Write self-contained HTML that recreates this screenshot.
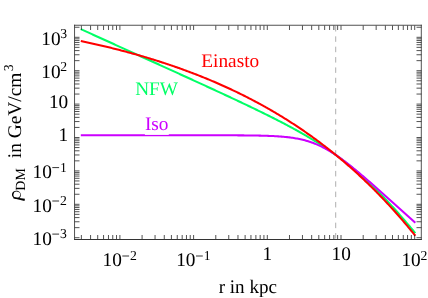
<!DOCTYPE html>
<html><head><meta charset="utf-8"><title>DM density profiles</title>
<style>html,body{margin:0;padding:0;background:#fff;}svg{display:block;will-change:transform;}</style>
</head><body>
<svg width="428" height="298" viewBox="0 0 428 298">
<rect width="428" height="298" fill="#fff"/>
<line x1="335.70" y1="238.50" x2="335.70" y2="25.50" stroke="#909090" stroke-width="0.72" stroke-dasharray="5.5 4.85"/>
<g fill="none" stroke-width="2.05" stroke-linejoin="round" stroke-linecap="butt">
<path d="M80.81 29.14 L81.93 29.64 L83.04 30.15 L84.16 30.65 L85.27 31.16 L86.39 31.66 L87.50 32.17 L88.62 32.67 L89.73 33.18 L90.85 33.69 L91.96 34.19 L93.08 34.70 L94.19 35.20 L95.31 35.71 L96.42 36.21 L97.54 36.72 L98.65 37.22 L99.77 37.73 L100.88 38.24 L102.00 38.74 L103.11 39.25 L104.23 39.75 L105.34 40.26 L106.46 40.76 L107.57 41.27 L108.69 41.78 L109.80 42.28 L110.92 42.79 L112.03 43.29 L113.15 43.80 L114.26 44.30 L115.38 44.81 L116.49 45.32 L117.61 45.82 L118.72 46.33 L119.84 46.83 L120.95 47.34 L122.07 47.84 L123.18 48.35 L124.30 48.86 L125.41 49.36 L126.53 49.87 L127.64 50.37 L128.76 50.88 L129.87 51.39 L130.99 51.89 L132.10 52.40 L133.22 52.90 L134.33 53.41 L135.45 53.92 L136.56 54.42 L137.68 54.93 L138.79 55.44 L139.91 55.94 L141.02 56.45 L142.14 56.95 L143.25 57.46 L144.37 57.97 L145.48 58.47 L146.60 58.98 L147.71 59.49 L148.83 59.99 L149.94 60.50 L151.06 61.01 L152.17 61.51 L153.29 62.02 L154.40 62.53 L155.52 63.03 L156.63 63.54 L157.75 64.05 L158.86 64.55 L159.98 65.06 L161.09 65.57 L162.21 66.08 L163.32 66.58 L164.44 67.09 L165.55 67.60 L166.67 68.10 L167.79 68.61 L168.90 69.12 L170.02 69.63 L171.13 70.14 L172.25 70.64 L173.36 71.15 L174.48 71.66 L175.59 72.17 L176.71 72.68 L177.82 73.18 L178.94 73.69 L180.05 74.20 L181.17 74.71 L182.28 75.22 L183.40 75.73 L184.51 76.24 L185.63 76.75 L186.74 77.26 L187.86 77.76 L188.97 78.27 L190.09 78.78 L191.20 79.29 L192.32 79.80 L193.43 80.31 L194.55 80.82 L195.66 81.34 L196.78 81.85 L197.89 82.36 L199.01 82.87 L200.12 83.38 L201.24 83.89 L202.35 84.40 L203.47 84.91 L204.58 85.43 L205.70 85.94 L206.81 86.45 L207.93 86.97 L209.04 87.48 L210.16 87.99 L211.27 88.51 L212.39 89.02 L213.50 89.54 L214.62 90.05 L215.73 90.57 L216.85 91.08 L217.96 91.60 L219.08 92.11 L220.19 92.63 L221.31 93.15 L222.42 93.66 L223.54 94.18 L224.65 94.70 L225.77 95.22 L226.88 95.74 L228.00 96.26 L229.11 96.78 L230.23 97.30 L231.34 97.82 L232.46 98.34 L233.57 98.86 L234.69 99.39 L235.80 99.91 L236.92 100.43 L238.03 100.96 L239.15 101.48 L240.26 102.01 L241.38 102.54 L242.49 103.07 L243.61 103.59 L244.72 104.12 L245.84 104.65 L246.95 105.18 L248.07 105.72 L249.18 106.25 L250.30 106.78 L251.41 107.32 L252.53 107.85 L253.64 108.39 L254.76 108.93 L255.87 109.47 L256.99 110.01 L258.10 110.55 L259.22 111.09 L260.33 111.63 L261.45 112.18 L262.56 112.73 L263.68 113.27 L264.79 113.82 L265.91 114.37 L267.02 114.93 L268.14 115.48 L269.25 116.03 L270.37 116.59 L271.48 117.15 L272.60 117.71 L273.71 118.27 L274.83 118.84 L275.95 119.41 L277.06 119.97 L278.18 120.54 L279.29 121.12 L280.41 121.69 L281.52 122.27 L282.64 122.85 L283.75 123.43 L284.87 124.02 L285.98 124.60 L287.10 125.19 L288.21 125.79 L289.33 126.38 L290.44 126.98 L291.56 127.58 L292.67 128.18 L293.79 128.79 L294.90 129.40 L296.02 130.02 L297.13 130.63 L298.25 131.25 L299.36 131.88 L300.48 132.51 L301.59 133.14 L302.71 133.78 L303.82 134.42 L304.94 135.06 L306.05 135.71 L307.17 136.36 L308.28 137.02 L309.40 137.68 L310.51 138.35 L311.63 139.02 L312.74 139.69 L313.86 140.37 L314.97 141.06 L316.09 141.75 L317.20 142.45 L318.32 143.15 L319.43 143.86 L320.55 144.57 L321.66 145.29 L322.78 146.02 L323.89 146.75 L325.01 147.49 L326.12 148.23 L327.24 148.98 L328.35 149.74 L329.47 150.50 L330.58 151.27 L331.70 152.05 L332.81 152.83 L333.93 153.62 L335.04 154.42 L336.16 155.22 L337.27 156.04 L338.39 156.86 L339.50 157.69 L340.62 158.52 L341.73 159.37 L342.85 160.22 L343.96 161.08 L345.08 161.94 L346.19 162.82 L347.31 163.70 L348.42 164.59 L349.54 165.49 L350.65 166.40 L351.77 167.32 L352.88 168.25 L354.00 169.18 L355.11 170.12 L356.23 171.08 L357.34 172.04 L358.46 173.00 L359.57 173.98 L360.69 174.97 L361.80 175.96 L362.92 176.97 L364.03 177.98 L365.15 179.00 L366.26 180.03 L367.38 181.07 L368.49 182.12 L369.61 183.18 L370.72 184.24 L371.84 185.32 L372.95 186.40 L374.07 187.49 L375.18 188.59 L376.30 189.70 L377.41 190.82 L378.53 191.94 L379.64 193.08 L380.76 194.22 L381.87 195.37 L382.99 196.53 L384.11 197.69 L385.22 198.87 L386.34 200.05 L387.45 201.24 L388.57 202.44 L389.68 203.64 L390.80 204.85 L391.91 206.07 L393.03 207.30 L394.14 208.53 L395.26 209.77 L396.37 211.02 L397.49 212.28 L398.60 213.54 L399.72 214.81 L400.83 216.08 L401.95 217.36 L403.06 218.65 L404.18 219.94 L405.29 221.24 L406.41 222.55 L407.52 223.86 L408.64 225.17 L409.75 226.50 L410.87 227.82 L411.98 229.16 L413.10 230.49 L414.21 231.84 L415.33 233.19" stroke="#00ff66"/>
<path d="M80.81 135.26 L81.93 135.26 L83.04 135.26 L84.16 135.26 L85.27 135.26 L86.39 135.26 L87.50 135.26 L88.62 135.26 L89.73 135.26 L90.85 135.26 L91.96 135.26 L93.08 135.26 L94.19 135.26 L95.31 135.26 L96.42 135.26 L97.54 135.26 L98.65 135.26 L99.77 135.26 L100.88 135.26 L102.00 135.26 L103.11 135.26 L104.23 135.26 L105.34 135.26 L106.46 135.26 L107.57 135.26 L108.69 135.26 L109.80 135.26 L110.92 135.26 L112.03 135.26 L113.15 135.26 L114.26 135.26 L115.38 135.26 L116.49 135.26 L117.61 135.26 L118.72 135.26 L119.84 135.26 L120.95 135.26 L122.07 135.26 L123.18 135.26 L124.30 135.26 L125.41 135.26 L126.53 135.26 L127.64 135.26 L128.76 135.26 L129.87 135.26 L130.99 135.26 L132.10 135.26 L133.22 135.26 L134.33 135.26 L135.45 135.26 L136.56 135.26 L137.68 135.26 L138.79 135.26 L139.91 135.26 L141.02 135.26 L142.14 135.26 L143.25 135.26 L144.37 135.26 L145.48 135.26 L146.60 135.26 L147.71 135.26 L148.83 135.26 L149.94 135.26 L151.06 135.26 L152.17 135.26 L153.29 135.26 L154.40 135.26 L155.52 135.26 L156.63 135.26 L157.75 135.26 L158.86 135.26 L159.98 135.26 L161.09 135.26 L162.21 135.26 L163.32 135.26 L164.44 135.26 L165.55 135.26 L166.67 135.26 L167.79 135.26 L168.90 135.26 L170.02 135.26 L171.13 135.26 L172.25 135.26 L173.36 135.26 L174.48 135.26 L175.59 135.26 L176.71 135.26 L177.82 135.26 L178.94 135.26 L180.05 135.26 L181.17 135.26 L182.28 135.26 L183.40 135.26 L184.51 135.26 L185.63 135.26 L186.74 135.26 L187.86 135.26 L188.97 135.26 L190.09 135.26 L191.20 135.26 L192.32 135.27 L193.43 135.27 L194.55 135.27 L195.66 135.27 L196.78 135.27 L197.89 135.27 L199.01 135.27 L200.12 135.27 L201.24 135.27 L202.35 135.27 L203.47 135.27 L204.58 135.27 L205.70 135.27 L206.81 135.27 L207.93 135.27 L209.04 135.28 L210.16 135.28 L211.27 135.28 L212.39 135.28 L213.50 135.28 L214.62 135.28 L215.73 135.28 L216.85 135.28 L217.96 135.29 L219.08 135.29 L220.19 135.29 L221.31 135.29 L222.42 135.29 L223.54 135.30 L224.65 135.30 L225.77 135.30 L226.88 135.31 L228.00 135.31 L229.11 135.31 L230.23 135.32 L231.34 135.32 L232.46 135.33 L233.57 135.33 L234.69 135.34 L235.80 135.34 L236.92 135.35 L238.03 135.35 L239.15 135.36 L240.26 135.37 L241.38 135.37 L242.49 135.38 L243.61 135.39 L244.72 135.40 L245.84 135.41 L246.95 135.42 L248.07 135.43 L249.18 135.45 L250.30 135.46 L251.41 135.47 L252.53 135.49 L253.64 135.50 L254.76 135.52 L255.87 135.54 L256.99 135.56 L258.10 135.58 L259.22 135.61 L260.33 135.63 L261.45 135.66 L262.56 135.69 L263.68 135.72 L264.79 135.75 L265.91 135.78 L267.02 135.82 L268.14 135.86 L269.25 135.90 L270.37 135.95 L271.48 135.99 L272.60 136.05 L273.71 136.10 L274.83 136.16 L275.95 136.22 L277.06 136.29 L278.18 136.36 L279.29 136.44 L280.41 136.52 L281.52 136.61 L282.64 136.70 L283.75 136.80 L284.87 136.90 L285.98 137.01 L287.10 137.13 L288.21 137.26 L289.33 137.39 L290.44 137.54 L291.56 137.69 L292.67 137.85 L293.79 138.02 L294.90 138.20 L296.02 138.39 L297.13 138.59 L298.25 138.80 L299.36 139.03 L300.48 139.26 L301.59 139.51 L302.71 139.78 L303.82 140.06 L304.94 140.35 L306.05 140.65 L307.17 140.98 L308.28 141.31 L309.40 141.67 L310.51 142.03 L311.63 142.42 L312.74 142.82 L313.86 143.24 L314.97 143.68 L316.09 144.13 L317.20 144.60 L318.32 145.09 L319.43 145.60 L320.55 146.12 L321.66 146.66 L322.78 147.22 L323.89 147.80 L325.01 148.39 L326.12 149.00 L327.24 149.63 L328.35 150.27 L329.47 150.93 L330.58 151.61 L331.70 152.30 L332.81 153.00 L333.93 153.72 L335.04 154.46 L336.16 155.21 L337.27 155.97 L338.39 156.74 L339.50 157.53 L340.62 158.33 L341.73 159.14 L342.85 159.96 L343.96 160.79 L345.08 161.63 L346.19 162.49 L347.31 163.35 L348.42 164.22 L349.54 165.09 L350.65 165.98 L351.77 166.87 L352.88 167.77 L354.00 168.68 L355.11 169.59 L356.23 170.51 L357.34 171.43 L358.46 172.36 L359.57 173.30 L360.69 174.24 L361.80 175.18 L362.92 176.13 L364.03 177.08 L365.15 178.04 L366.26 179.00 L367.38 179.96 L368.49 180.93 L369.61 181.89 L370.72 182.87 L371.84 183.84 L372.95 184.82 L374.07 185.79 L375.18 186.77 L376.30 187.76 L377.41 188.74 L378.53 189.73 L379.64 190.72 L380.76 191.71 L381.87 192.70 L382.99 193.69 L384.11 194.68 L385.22 195.68 L386.34 196.67 L387.45 197.67 L388.57 198.67 L389.68 199.66 L390.80 200.66 L391.91 201.66 L393.03 202.66 L394.14 203.66 L395.26 204.67 L396.37 205.67 L397.49 206.67 L398.60 207.68 L399.72 208.68 L400.83 209.68 L401.95 210.69 L403.06 211.69 L404.18 212.70 L405.29 213.71 L406.41 214.71 L407.52 215.72 L408.64 216.73 L409.75 217.73 L410.87 218.74 L411.98 219.75 L413.10 220.76 L414.21 221.76 L415.33 222.77" stroke="#cc00ff"/>
<path d="M80.81 40.96 L81.93 41.20 L83.04 41.44 L84.16 41.68 L85.27 41.92 L86.39 42.16 L87.50 42.40 L88.62 42.64 L89.73 42.89 L90.85 43.14 L91.96 43.38 L93.08 43.63 L94.19 43.89 L95.31 44.14 L96.42 44.39 L97.54 44.65 L98.65 44.91 L99.77 45.17 L100.88 45.43 L102.00 45.69 L103.11 45.95 L104.23 46.22 L105.34 46.48 L106.46 46.75 L107.57 47.02 L108.69 47.29 L109.80 47.57 L110.92 47.84 L112.03 48.12 L113.15 48.40 L114.26 48.68 L115.38 48.96 L116.49 49.24 L117.61 49.53 L118.72 49.81 L119.84 50.10 L120.95 50.39 L122.07 50.68 L123.18 50.98 L124.30 51.27 L125.41 51.57 L126.53 51.87 L127.64 52.17 L128.76 52.47 L129.87 52.77 L130.99 53.08 L132.10 53.39 L133.22 53.69 L134.33 54.01 L135.45 54.32 L136.56 54.63 L137.68 54.95 L138.79 55.27 L139.91 55.59 L141.02 55.91 L142.14 56.24 L143.25 56.56 L144.37 56.89 L145.48 57.22 L146.60 57.55 L147.71 57.89 L148.83 58.22 L149.94 58.56 L151.06 58.90 L152.17 59.24 L153.29 59.59 L154.40 59.93 L155.52 60.28 L156.63 60.63 L157.75 60.99 L158.86 61.34 L159.98 61.70 L161.09 62.06 L162.21 62.42 L163.32 62.78 L164.44 63.15 L165.55 63.51 L166.67 63.88 L167.79 64.25 L168.90 64.63 L170.02 65.00 L171.13 65.38 L172.25 65.76 L173.36 66.15 L174.48 66.53 L175.59 66.92 L176.71 67.31 L177.82 67.70 L178.94 68.09 L180.05 68.49 L181.17 68.89 L182.28 69.29 L183.40 69.70 L184.51 70.10 L185.63 70.51 L186.74 70.92 L187.86 71.34 L188.97 71.75 L190.09 72.17 L191.20 72.59 L192.32 73.01 L193.43 73.44 L194.55 73.87 L195.66 74.30 L196.78 74.73 L197.89 75.17 L199.01 75.61 L200.12 76.05 L201.24 76.49 L202.35 76.94 L203.47 77.39 L204.58 77.84 L205.70 78.30 L206.81 78.75 L207.93 79.21 L209.04 79.68 L210.16 80.14 L211.27 80.61 L212.39 81.08 L213.50 81.56 L214.62 82.03 L215.73 82.51 L216.85 82.99 L217.96 83.48 L219.08 83.97 L220.19 84.46 L221.31 84.95 L222.42 85.45 L223.54 85.95 L224.65 86.45 L225.77 86.96 L226.88 87.47 L228.00 87.98 L229.11 88.49 L230.23 89.01 L231.34 89.53 L232.46 90.06 L233.57 90.58 L234.69 91.11 L235.80 91.65 L236.92 92.18 L238.03 92.72 L239.15 93.27 L240.26 93.81 L241.38 94.36 L242.49 94.92 L243.61 95.47 L244.72 96.03 L245.84 96.59 L246.95 97.16 L248.07 97.73 L249.18 98.30 L250.30 98.88 L251.41 99.46 L252.53 100.04 L253.64 100.63 L254.76 101.22 L255.87 101.81 L256.99 102.41 L258.10 103.01 L259.22 103.61 L260.33 104.22 L261.45 104.83 L262.56 105.45 L263.68 106.07 L264.79 106.69 L265.91 107.31 L267.02 107.94 L268.14 108.58 L269.25 109.21 L270.37 109.86 L271.48 110.50 L272.60 111.15 L273.71 111.80 L274.83 112.46 L275.95 113.12 L277.06 113.78 L278.18 114.45 L279.29 115.12 L280.41 115.80 L281.52 116.48 L282.64 117.16 L283.75 117.85 L284.87 118.54 L285.98 119.24 L287.10 119.94 L288.21 120.64 L289.33 121.35 L290.44 122.07 L291.56 122.78 L292.67 123.51 L293.79 124.23 L294.90 124.96 L296.02 125.70 L297.13 126.44 L298.25 127.18 L299.36 127.93 L300.48 128.68 L301.59 129.44 L302.71 130.20 L303.82 130.96 L304.94 131.73 L306.05 132.51 L307.17 133.29 L308.28 134.07 L309.40 134.86 L310.51 135.65 L311.63 136.45 L312.74 137.25 L313.86 138.06 L314.97 138.87 L316.09 139.69 L317.20 140.51 L318.32 141.34 L319.43 142.17 L320.55 143.01 L321.66 143.85 L322.78 144.70 L323.89 145.55 L325.01 146.40 L326.12 147.27 L327.24 148.13 L328.35 149.01 L329.47 149.88 L330.58 150.77 L331.70 151.65 L332.81 152.55 L333.93 153.45 L335.04 154.35 L336.16 155.26 L337.27 156.17 L338.39 157.09 L339.50 158.02 L340.62 158.95 L341.73 159.89 L342.85 160.83 L343.96 161.77 L345.08 162.73 L346.19 163.69 L347.31 164.65 L348.42 165.62 L349.54 166.60 L350.65 167.58 L351.77 168.57 L352.88 169.56 L354.00 170.56 L355.11 171.57 L356.23 172.58 L357.34 173.59 L358.46 174.62 L359.57 175.65 L360.69 176.68 L361.80 177.72 L362.92 178.77 L364.03 179.83 L365.15 180.89 L366.26 181.95 L367.38 183.03 L368.49 184.11 L369.61 185.19 L370.72 186.28 L371.84 187.38 L372.95 188.49 L374.07 189.60 L375.18 190.72 L376.30 191.84 L377.41 192.98 L378.53 194.11 L379.64 195.26 L380.76 196.41 L381.87 197.57 L382.99 198.74 L384.11 199.91 L385.22 201.09 L386.34 202.28 L387.45 203.47 L388.57 204.67 L389.68 205.88 L390.80 207.09 L391.91 208.32 L393.03 209.55 L394.14 210.78 L395.26 212.03 L396.37 213.28 L397.49 214.54 L398.60 215.80 L399.72 217.08 L400.83 218.36 L401.95 219.65 L403.06 220.95 L404.18 222.25 L405.29 223.56 L406.41 224.88 L407.52 226.21 L408.64 227.55 L409.75 228.89 L410.87 230.24 L411.98 231.60 L413.10 232.97 L414.21 234.35 L415.33 235.73" stroke="#ff0000"/>
</g>
<path d="M81.36 239.50 v-4.50 M81.36 25.50 v4.50 M90.57 239.50 v-4.50 M90.57 25.50 v4.50 M97.71 239.50 v-4.50 M97.71 25.50 v4.50 M103.55 239.50 v-4.50 M103.55 25.50 v4.50 M108.48 239.50 v-4.50 M108.48 25.50 v4.50 M112.76 239.50 v-4.50 M112.76 25.50 v4.50 M116.53 239.50 v-4.50 M116.53 25.50 v4.50 M119.90 239.50 v-4.50 M119.90 25.50 v4.50 M142.09 239.50 v-4.50 M142.09 25.50 v4.50 M155.06 239.50 v-4.50 M155.06 25.50 v4.50 M164.27 239.50 v-4.50 M164.27 25.50 v4.50 M171.41 239.50 v-4.50 M171.41 25.50 v4.50 M177.25 239.50 v-4.50 M177.25 25.50 v4.50 M182.18 239.50 v-4.50 M182.18 25.50 v4.50 M186.46 239.50 v-4.50 M186.46 25.50 v4.50 M190.23 239.50 v-4.50 M190.23 25.50 v4.50 M193.60 239.50 v-4.50 M193.60 25.50 v4.50 M215.79 239.50 v-4.50 M215.79 25.50 v4.50 M228.76 239.50 v-4.50 M228.76 25.50 v4.50 M237.97 239.50 v-4.50 M237.97 25.50 v4.50 M245.11 239.50 v-4.50 M245.11 25.50 v4.50 M250.95 239.50 v-4.50 M250.95 25.50 v4.50 M255.88 239.50 v-4.50 M255.88 25.50 v4.50 M260.16 239.50 v-4.50 M260.16 25.50 v4.50 M263.93 239.50 v-4.50 M263.93 25.50 v4.50 M267.30 239.50 v-4.50 M267.30 25.50 v4.50 M289.49 239.50 v-4.50 M289.49 25.50 v4.50 M302.46 239.50 v-4.50 M302.46 25.50 v4.50 M311.67 239.50 v-4.50 M311.67 25.50 v4.50 M318.81 239.50 v-4.50 M318.81 25.50 v4.50 M324.65 239.50 v-4.50 M324.65 25.50 v4.50 M329.58 239.50 v-4.50 M329.58 25.50 v4.50 M333.86 239.50 v-4.50 M333.86 25.50 v4.50 M337.63 239.50 v-4.50 M337.63 25.50 v4.50 M341.00 239.50 v-4.50 M341.00 25.50 v4.50 M363.19 239.50 v-4.50 M363.19 25.50 v4.50 M376.16 239.50 v-4.50 M376.16 25.50 v4.50 M385.37 239.50 v-4.50 M385.37 25.50 v4.50 M392.51 239.50 v-4.50 M392.51 25.50 v4.50 M398.35 239.50 v-4.50 M398.35 25.50 v4.50 M403.28 239.50 v-4.50 M403.28 25.50 v4.50 M407.56 239.50 v-4.50 M407.56 25.50 v4.50 M411.33 239.50 v-4.50 M411.33 25.50 v4.50 M414.70 239.50 v-4.50 M414.70 25.50 v4.50 M74.50 237.70 h5.00 M421.50 237.70 h-5.00 M74.50 227.65 h5.00 M421.50 227.65 h-5.00 M74.50 221.76 h5.00 M421.50 221.76 h-5.00 M74.50 217.59 h5.00 M421.50 217.59 h-5.00 M74.50 214.35 h5.00 M421.50 214.35 h-5.00 M74.50 211.71 h5.00 M421.50 211.71 h-5.00 M74.50 209.47 h5.00 M421.50 209.47 h-5.00 M74.50 207.54 h5.00 M421.50 207.54 h-5.00 M74.50 205.83 h5.00 M421.50 205.83 h-5.00 M74.50 204.30 h5.00 M421.50 204.30 h-5.00 M74.50 194.25 h5.00 M421.50 194.25 h-5.00 M74.50 188.36 h5.00 M421.50 188.36 h-5.00 M74.50 184.19 h5.00 M421.50 184.19 h-5.00 M74.50 180.95 h5.00 M421.50 180.95 h-5.00 M74.50 178.31 h5.00 M421.50 178.31 h-5.00 M74.50 176.07 h5.00 M421.50 176.07 h-5.00 M74.50 174.14 h5.00 M421.50 174.14 h-5.00 M74.50 172.43 h5.00 M421.50 172.43 h-5.00 M74.50 170.90 h5.00 M421.50 170.90 h-5.00 M74.50 160.85 h5.00 M421.50 160.85 h-5.00 M74.50 154.96 h5.00 M421.50 154.96 h-5.00 M74.50 150.79 h5.00 M421.50 150.79 h-5.00 M74.50 147.55 h5.00 M421.50 147.55 h-5.00 M74.50 144.91 h5.00 M421.50 144.91 h-5.00 M74.50 142.67 h5.00 M421.50 142.67 h-5.00 M74.50 140.74 h5.00 M421.50 140.74 h-5.00 M74.50 139.03 h5.00 M421.50 139.03 h-5.00 M74.50 137.50 h5.00 M421.50 137.50 h-5.00 M74.50 127.45 h5.00 M421.50 127.45 h-5.00 M74.50 121.56 h5.00 M421.50 121.56 h-5.00 M74.50 117.39 h5.00 M421.50 117.39 h-5.00 M74.50 114.15 h5.00 M421.50 114.15 h-5.00 M74.50 111.51 h5.00 M421.50 111.51 h-5.00 M74.50 109.27 h5.00 M421.50 109.27 h-5.00 M74.50 107.34 h5.00 M421.50 107.34 h-5.00 M74.50 105.63 h5.00 M421.50 105.63 h-5.00 M74.50 104.10 h5.00 M421.50 104.10 h-5.00 M74.50 94.05 h5.00 M421.50 94.05 h-5.00 M74.50 88.16 h5.00 M421.50 88.16 h-5.00 M74.50 83.99 h5.00 M421.50 83.99 h-5.00 M74.50 80.75 h5.00 M421.50 80.75 h-5.00 M74.50 78.11 h5.00 M421.50 78.11 h-5.00 M74.50 75.87 h5.00 M421.50 75.87 h-5.00 M74.50 73.94 h5.00 M421.50 73.94 h-5.00 M74.50 72.23 h5.00 M421.50 72.23 h-5.00 M74.50 70.70 h5.00 M421.50 70.70 h-5.00 M74.50 60.65 h5.00 M421.50 60.65 h-5.00 M74.50 54.76 h5.00 M421.50 54.76 h-5.00 M74.50 50.59 h5.00 M421.50 50.59 h-5.00 M74.50 47.35 h5.00 M421.50 47.35 h-5.00 M74.50 44.71 h5.00 M421.50 44.71 h-5.00 M74.50 42.47 h5.00 M421.50 42.47 h-5.00 M74.50 40.54 h5.00 M421.50 40.54 h-5.00 M74.50 38.83 h5.00 M421.50 38.83 h-5.00 M74.50 37.30 h5.00 M421.50 37.30 h-5.00 M74.50 27.25 h5.00 M421.50 27.25 h-5.00" stroke="#222" stroke-width="0.78" fill="none"/>
<path d="M74.55 25.25 H421.30 M74.55 25.25 V239.50 M421.30 25.25 V239.50" fill="none" stroke="#333" stroke-width="0.85" stroke-linecap="square"/>
<path d="M74.55 239.50 H421.30" fill="none" stroke="#333" stroke-width="1" stroke-linecap="square"/>
<g font-family="'Liberation Serif', serif" font-size="19.30" fill="#000" text-rendering="geometricPrecision">
<text transform="translate(41.25,44.80)">10</text>
<text transform="translate(60.35,38.30)" font-size="13.70">3</text>
<text transform="translate(41.25,77.90)">10</text>
<text transform="translate(60.35,71.40)" font-size="13.70">2</text>
<text transform="translate(48.90,107.60)">10</text>
<text transform="translate(58.60,141.00)">1</text>
<text transform="translate(32.50,178.40)">10</text>
<text transform="translate(60.10,171.90)" font-size="13.70">1</text>
<text transform="translate(32.50,211.80)">10</text>
<text transform="translate(60.10,205.30)" font-size="13.70">2</text>
<text transform="translate(32.50,244.90)">10</text>
<text transform="translate(60.10,238.40)" font-size="13.70">3</text>
<text transform="translate(102.50,266.10)">10</text>
<text transform="translate(130.10,259.60)" font-size="13.70">2</text>
<text transform="translate(176.20,266.10)">10</text>
<text transform="translate(203.80,259.60)" font-size="13.70">1</text>
<text transform="translate(262.50,259.90)">1</text>
<text transform="translate(331.50,259.90)">10</text>
<text transform="translate(401.40,266.10)">10</text>
<text transform="translate(420.50,259.50)" font-size="13.70">2</text>
<path d="M52.30 167.60 h6.80 M52.30 201.00 h6.80 M52.30 234.10 h6.80 M122.30 256.00 h6.80 M196.00 256.00 h6.80" stroke="#000" stroke-width="0.80" fill="none"/>
<text transform="translate(247.80,292.70) scale(0.988,1)" text-anchor="middle">r in kpc</text>
<g fill="#000"><path fill-rule="evenodd" transform="rotate(14 16.4 194.8)" d="M11.9 194.8 a4.5 4.1 0 1 0 9 0 a4.5 4.1 0 1 0 -9 0 Z M13.4 194.6 a3.4 3.0 0 1 1 6.8 0 a3.4 3.0 0 1 1 -6.8 0 Z"/><path d="M13.6 197.3 L24.9 198.8 L24.5 201.0 L13.1 198.3 Z"/></g>
<text transform="translate(25.00,190.65) rotate(-90)" font-size="14.00">DM</text>
<text transform="translate(21.10,158.20) rotate(-90) scale(1.006,1)">in GeV/cm<tspan font-size="13.70" dy="-7.8" dx="1.4">3</tspan></text>
<text transform="translate(201.30,66.90)" fill="#ff0000">Einasto</text>
<text transform="translate(135.20,95.00)" fill="#00ff66">NFW</text>
<rect x="144.9" y="115" width="23.9" height="19.9" fill="#fff"/>
<text transform="translate(144.90,130.20)" fill="#cc00ff">Iso</text>
</g>
</svg>
</body></html>
